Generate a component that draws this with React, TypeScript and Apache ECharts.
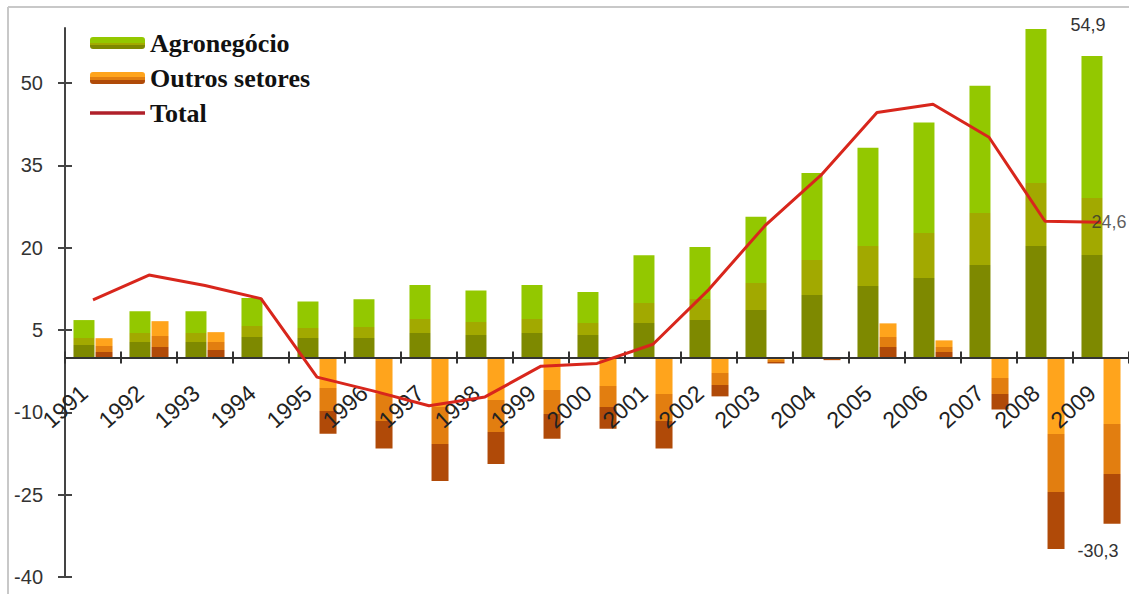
import React, { useEffect, useRef } from "react";
import * as echarts from "echarts";

const years = ["1991","1992","1993","1994","1995","1996","1997","1998","1999","2000","2001","2002","2003","2004","2005","2006","2007","2008","2009"];
const agronegocio = [6.8, 8.4, 8.4, 10.8, 10.2, 10.6, 13.2, 12.2, 13.2, 11.9, 18.6, 20.1, 25.6, 33.6, 38.2, 42.8, 49.5, 59.8, 54.9];
const outrosSetores = [3.5, 6.6, 4.6, -0.3, -13.9, -16.6, -22.5, -19.4, -14.8, -13.0, -16.6, -7.1, -1.1, -0.5, 6.2, 3.1, -9.5, -34.9, -30.3];
const total = [10.5, 15.0, 13.1, 10.7, -3.6, -6.1, -8.8, -7.2, -1.6, -1.1, 2.4, 12.4, 24.0, 33.2, 44.6, 46.1, 40.1, 24.8, 24.6];
const yTicks = [-40, -25, -10, 5, 20, 35, 50];

const fmt = (v: number) => String(v).replace(".", ",");

function bands(stops: [number, string][]) {
  const out: { offset: number; color: string }[] = [];
  stops.forEach(([o, c], i) => {
    const start = i === 0 ? 0 : stops[i - 1][0];
    out.push({ offset: start, color: c });
    out.push({ offset: o, color: c });
  });
  return new echarts.graphic.LinearGradient(0, 0, 0, 1, out);
}

const Y_MIN = -40;
const Y_MAX = 60;
const GRID_TOP = 28;
const GRID_BOTTOM = 17;
const HEIGHT = 594;

export default function App() {
  const ref = useRef<HTMLDivElement>(null);
  useEffect(() => {
    if (!ref.current) return;
    const chart = echarts.init(ref.current, null, { renderer: "svg" });
    const green = bands([[0.47, "#93c800"], [0.66, "#a2a900"], [1, "#7e8900"]]);
    const orange = bands([[0.4, "#ffa41c"], [0.7, "#e27e10"], [1, "#b04a08"]]);
    const last = years.length - 1;
    const labelStyle = { color: "#333", fontFamily: "Liberation Sans", fontSize: 18 };
    const plotH = HEIGHT - GRID_TOP - GRID_BOTTOM;
    const zeroOffset = -(plotH * (0 - Y_MIN)) / (Y_MAX - Y_MIN);
    chart.setOption({
      animation: false,
      backgroundColor: "#fff",
      graphic: [
        { type: "line", shape: { x1: 8, y1: 7, x2: 1129, y2: 7 }, style: { stroke: "#c8c8c8", lineWidth: 2 } },
        { type: "line", shape: { x1: 8, y1: 7, x2: 8, y2: 594 }, style: { stroke: "#c8c8c8", lineWidth: 2 } },
      ],
      legend: {
        orient: "vertical",
        left: 90,
        top: 30,
        padding: 0,
        itemWidth: 55,
        itemHeight: 12,
        itemGap: 9,
        data: [
          "Agronegócio",
          "Outros setores",
          { name: "Total", icon: "path://M0 0H100V6H0Z", itemStyle: { color: "#b0202a" } },
        ],
        textStyle: { fontFamily: "Liberation Serif", fontWeight: "bold", fontSize: 26, color: "#111" },
      },
      grid: { left: 65, right: 0, top: GRID_TOP, bottom: GRID_BOTTOM, outerBoundsMode: "none", containLabel: false },
      xAxis: [
        {
          type: "category",
          data: years,
          z: 3,
          position: "bottom",
          offset: zeroOffset,
          axisLine: { onZero: false, lineStyle: { color: "#333", width: 2 } },
          axisTick: { show: true, length: 6, lineStyle: { color: "#333", width: 2 } },
          axisLabel: { rotate: 42, margin: 24, padding: [0, 12, 0, 0], fontFamily: "Liberation Sans", fontSize: 23, color: "#222" },
        },
        {
          type: "category",
          data: years,
          z: 3,
          position: "bottom",
          offset: zeroOffset,
          axisLine: { show: false, onZero: false },
          axisTick: { show: true, inside: true, length: 6, lineStyle: { color: "#333", width: 2 } },
          axisLabel: { show: false },
        },
      ],
      yAxis: [
        {
          type: "value",
          min: Y_MIN,
          max: Y_MAX,
          interval: 5,
          splitLine: { show: false },
          axisLine: { show: true, lineStyle: { color: "#444", width: 2 } },
          axisTick: { show: true, length: 7, customValues: yTicks, lineStyle: { color: "#444", width: 2 } },
          axisLabel: { customValues: yTicks, margin: 22, fontFamily: "Liberation Sans", fontSize: 20, color: "#333" },
        },
        {
          type: "value",
          min: Y_MIN,
          max: Y_MAX,
          interval: 5,
          position: "left",
          splitLine: { show: false },
          axisLine: { show: false },
          axisTick: { show: true, inside: true, length: 7, customValues: yTicks, lineStyle: { color: "#444", width: 2 } },
          axisLabel: { show: false },
        },
      ],
      series: [
        {
          name: "Agronegócio",
          type: "bar",
          barWidth: 21,
          barGap: "5%",
          itemStyle: { color: green },
          data: agronegocio.map((v, i) =>
            i === last
              ? { value: v, label: { show: true, position: "top", distance: 22, offset: [-4, 0], formatter: () => fmt(v), ...labelStyle } }
              : v
          ),
        },
        {
          name: "Outros setores",
          type: "bar",
          barWidth: 17,
          itemStyle: { color: orange },
          data: outrosSetores.map((v, i) =>
            i === last
              ? { value: v, label: { show: true, position: "bottom", distance: 18, offset: [-14, 0], formatter: () => fmt(v), ...labelStyle } }
              : v
          ),
        },
        {
          name: "Total",
          type: "line",
          z: 5,
          symbol: "none",
          showSymbol: false,
          color: "#b0202a",
          lineStyle: { color: "#d8261c", width: 3 },
          data: total,
        },
        {
          name: "TotalLabel",
          type: "scatter",
          z: 6,
          symbolSize: 1,
          silent: true,
          itemStyle: { color: "rgba(0,0,0,0)" },
          data: total.map((v, i) => (i === last ? v : "-")),
          label: { show: true, position: "inside", offset: [8, 0], formatter: (p: any) => fmt(p.value), ...labelStyle },
        },
      ],
    });
    return () => chart.dispose();
  }, []);
  return <div ref={ref} style={{ position: "absolute", left: 0, top: 0, width: 1129, height: 594, background: "#fff" }} />;
}
